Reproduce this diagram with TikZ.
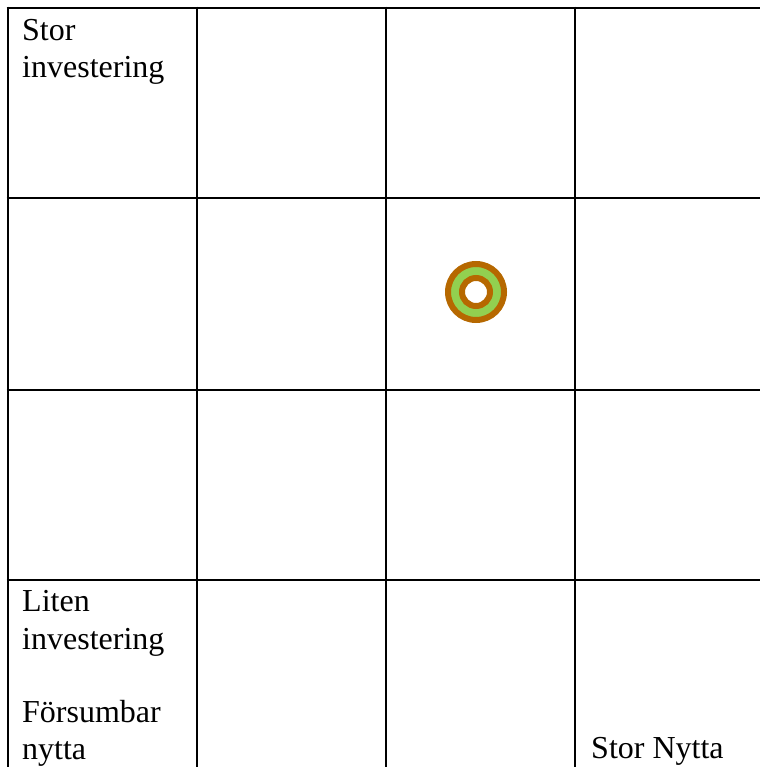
\documentclass[tikz,border=0pt]{standalone}
\usepackage{fontspec}
\setmainfont{Liberation Serif}
\definecolor{ringbrown}{RGB}{182,104,0}
\definecolor{ringgreen}{RGB}{146,208,80}
\tikzset{
    gridline/.style={line width=2.6pt,black},
    celltext/.style={anchor=base west,inner sep=0pt,font=\fontsize{32}{37}\selectfont}
}
\begin{document}
\begin{tikzpicture}[x=1pt,y=-1pt]
        \useasboundingbox (0,0) rectangle (760,767);
        % rutnat
        \foreach \x in {8,197,386,575}
            \draw [gridline] (\x,6.7) -- (\x,767);
        \foreach \y in {8,198,390,580}
            \draw [gridline] (6.7,\y) -- (760,\y);
        % texter
        \node [celltext] (stor) at (22,41) {Stor};
        \node [celltext] (storinv) at (22,78) {investering};
        \node [celltext] (liten) at (22,611) {Liten};
        \node [celltext] (liteninv) at (22,649) {investering};
        \node [celltext] (forsumbar) at (22,722) {Försumbar};
        \node [celltext] (nytta) at (22,759) {nytta};
        \node [celltext] (stornytta) at (591,758) {Stor Nytta};
        % ringen
        \draw [ringbrown,line width=6pt,fill=ringgreen,even odd rule] (476,292) circle [radius=28] (476,292) circle [radius=14];
    \end{tikzpicture}
\end{document}
